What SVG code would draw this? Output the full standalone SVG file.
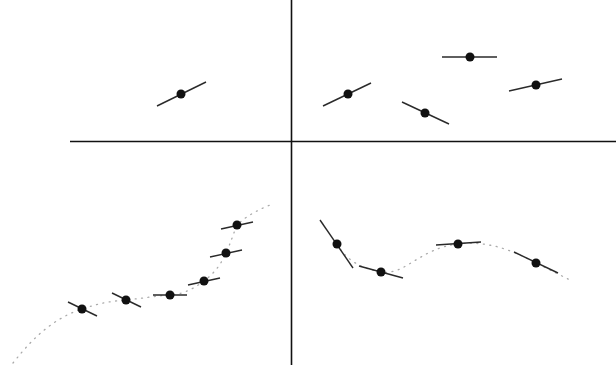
<svg xmlns="http://www.w3.org/2000/svg" width="616" height="372" viewBox="0 0 616 372">
<style>
.axis{stroke:#111;stroke-width:1.6;fill:none}
.seg{stroke:#2a2a2a;stroke-width:1.4;fill:none}
.dot{fill:#111}
.curve{stroke:#aaa;stroke-width:1.3;fill:none;stroke-dasharray:1 5.5;stroke-linecap:round}
</style>
<rect width="616" height="372" fill="#fff"/>
<g id="connectors">
<line class="axis" x1="70" y1="141.5" x2="616" y2="141.5"/>
<line class="axis" x1="291.5" y1="0" x2="291.5" y2="365"/>
<path class="curve" d="M13,363 C35,335 55,318 82,309 C100,303 112,301 126,300 C145,298 155,296 170,295 C185,294 196,287 204,281 C216,272 222,262 226,253 C231,242 234,232 237,225 C246,216 258,210 270,205"/>
<path class="curve" d="M337,244 C345,258 358,268 381,272 C405,276 420,248 458,244 C490,240 515,252 536,263 C550,270 562,276 572,281"/>
</g>
<g id="tl1"><line class="seg" x1="157" y1="106" x2="206" y2="82"/><circle class="dot" cx="181" cy="94" r="4.5"/></g>
<g id="tr1"><line class="seg" x1="323" y1="106" x2="371" y2="83"/><circle class="dot" cx="348" cy="94" r="4.5"/></g>
<g id="tr2"><line class="seg" x1="402" y1="102" x2="449" y2="124"/><circle class="dot" cx="425" cy="113" r="4.5"/></g>
<g id="tr3"><line class="seg" x1="442" y1="57" x2="497" y2="57"/><circle class="dot" cx="470" cy="57" r="4.5"/></g>
<g id="tr4"><line class="seg" x1="509" y1="91" x2="562" y2="79"/><circle class="dot" cx="536" cy="85" r="4.5"/></g>
<g id="br1"><line class="seg" x1="320" y1="220" x2="353" y2="268"/><circle class="dot" cx="337" cy="244" r="4.5"/></g>
<g id="br2"><line class="seg" x1="359" y1="266" x2="403" y2="278"/><circle class="dot" cx="381" cy="272" r="4.5"/></g>
<g id="br3"><line class="seg" x1="436" y1="245" x2="481" y2="242"/><circle class="dot" cx="458" cy="244" r="4.5"/></g>
<g id="br4"><line class="seg" x1="514" y1="252" x2="558" y2="273"/><circle class="dot" cx="536" cy="263" r="4.5"/></g>
<g id="bl1"><line class="seg" x1="68" y1="302" x2="97" y2="316"/><circle class="dot" cx="82" cy="309" r="4.5"/></g>
<g id="bl2"><line class="seg" x1="112" y1="293" x2="141" y2="307"/><circle class="dot" cx="126" cy="300" r="4.5"/></g>
<g id="bl3"><line class="seg" x1="153" y1="295" x2="187" y2="295"/><circle class="dot" cx="170" cy="295" r="4.5"/></g>
<g id="bl4"><line class="seg" x1="188" y1="285" x2="220" y2="278"/><circle class="dot" cx="204" cy="281" r="4.5"/></g>
<g id="bl5"><line class="seg" x1="210" y1="257" x2="242" y2="250"/><circle class="dot" cx="226" cy="253" r="4.5"/></g>
<g id="bl6"><line class="seg" x1="221" y1="229" x2="253" y2="222"/><circle class="dot" cx="237" cy="225" r="4.5"/></g>
</svg>
